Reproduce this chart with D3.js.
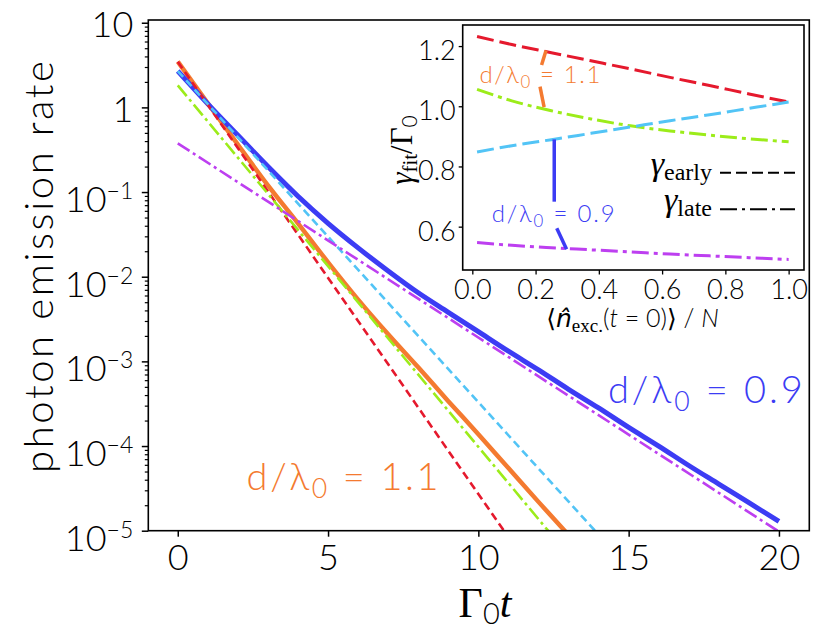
<!DOCTYPE html>
<html>
<head>
<meta charset="utf-8">
<script src="https://cdn.jsdelivr.net/npm/d3@7"></script>
<style>
body { margin: 0; background: #fff; }
svg { display: block; }
</style>
</head>
<body>
<div id="chart"></div>
<script>
// ---- main panel data: photon emission rate vs Gamma_0 t ----
var xTicks = [0, 5, 10, 15, 20];
var yMajor = [1e-5, 1e-4, 1e-3, 1e-2, 1e-1, 1, 10];

// full curves [t, rate]
var rate11 = [[0,3.47],[1,1.12],[2,0.363],[3,0.120],[4,0.0427],[5,0.0148],[6,5.37e-3],[7,2.09e-3],
              [8,8.5e-4],[9,3.39e-4],[10,1.38e-4],[11,5.5e-5],[12,2.19e-5],[13,8.9e-6]];
var rate09 = [[0,2.69],[1,1.10],[2,0.468],[3,0.200],[4,0.0891],[5,0.0427],[6,0.0219],[7,0.0117],
              [8,6.46e-3],[9,3.80e-3],[10,2.24e-3],[11,1.32e-3],[12,7.94e-4],[13,4.68e-4],[14,2.82e-4],
              [15,1.66e-4],[16,1.0e-4],[17,5.89e-5],[18,3.55e-5],[19,2.14e-5],[20,1.29e-5]];

// single exponential fits (straight on log axis), start and end points
var earlyFit11 = [[0, 3.47], [10.85, 1e-5]];
var lateFit11  = [[0, 1.82], [12.32, 1e-5]];
var earlyFit09 = [[0, 2.69], [13.88, 1e-5]];
var lateFit09  = [[0, 0.376], [19.95, 1e-5]];

// ---- inset data: fitted rates vs initial excitation ----
var nExc     = [0.015, 0.125, 0.25, 0.375, 0.5, 0.625, 0.75, 0.875, 1.0];
var gEarly11 = [1.232, 1.205, 1.178, 1.151, 1.124, 1.096, 1.069, 1.041, 1.014];
var gLate11  = [1.056, 1.018, 0.985, 0.958, 0.935, 0.918, 0.904, 0.892, 0.882];
var gEarly09 = [0.848, 0.869, 0.889, 0.910, 0.931, 0.952, 0.972, 0.993, 1.014];
var gLate09  = [0.547, 0.538, 0.530, 0.523, 0.516, 0.509, 0.503, 0.497, 0.491];
var insetXTicks = [0, 0.2, 0.4, 0.6, 0.8, 1.0];
var insetYTicks = [0.6, 0.8, 1.0, 1.2];

var sans = "Lato, 'Open Sans', sans-serif";
var serif = "'Liberation Serif', 'DejaVu Serif', serif";

var col = {
    blue: "#3c3cf4", orange: "#f47a30", red: "#e5192d",
    cyan: "#52c4f6", green: "#9cec1a", purple: "#bd3ff0"
};

var W = 830, H = 643;
var svg = d3.select("#chart").append("svg")
    .attr("width", W).attr("height", H)
    .attr("font-weight", 300);

svg.append("rect").attr("width", W).attr("height", H).attr("fill", "#fff");

// main scales
var x = d3.scaleLinear().domain([-0.98, 21.01]).range([148.3, 809.3]);
var y = d3.scaleLog().domain([1e-5, 10.77]).range([530.7, 20]);

svg.append("clipPath").attr("id", "mainclip")
  .append("rect")
    .attr("x", x.range()[0]).attr("y", y.range()[1])
    .attr("width", x.range()[1] - x.range()[0])
    .attr("height", y.range()[0] - y.range()[1]);

var line = d3.line()
    .x(function(d){ return x(d[0]); })
    .y(function(d){ return y(d[1]); });
var smooth = d3.line()
    .x(function(d){ return x(d[0]); })
    .y(function(d){ return y(d[1]); })
    .curve(d3.curveMonotoneX);

var plot = svg.append("g").attr("clip-path", "url(#mainclip)");

// solid curves first, fits on top
plot.append("path").attr("d", smooth(rate11))
    .attr("fill", "none").attr("stroke", col.orange).attr("stroke-width", 4.5);
plot.append("path").attr("d", smooth(rate09))
    .attr("fill", "none").attr("stroke", col.blue).attr("stroke-width", 5);

var fits = [
    {d: earlyFit11, c: col.red,    dash: "8,4.5"},
    {d: earlyFit09, c: col.cyan,   dash: "8,4.5"},
    {d: lateFit11,  c: col.green,  dash: "14,4,3,4"},
    {d: lateFit09,  c: col.purple, dash: "14,4,3,4"}
];
fits.forEach(function(f){
    plot.append("path").attr("d", line(f.d))
        .attr("fill", "none").attr("stroke", f.c)
        .attr("stroke-width", 2.6).attr("stroke-dasharray", f.dash);
});

// axes
var xAxis = svg.append("g")
    .attr("transform", "translate(0," + y.range()[0] + ")")
    .call(d3.axisBottom(x).tickValues(xTicks).tickSize(6).tickPadding(8));
xAxis.select(".domain").remove();
xAxis.selectAll(".tick line").attr("stroke-width", 1.5);
xAxis.selectAll(".tick text").attr("font-family", sans).attr("font-size", 36)
    .attr("font-weight", 300).attr("fill", "#000");

var yMinor = y.ticks().filter(function(v){
    return Math.abs(Math.log10(v) - Math.round(Math.log10(v))) > 1e-6;
});
var yMinorAxis = svg.append("g")
    .attr("transform", "translate(" + x.range()[0] + ",0)")
    .call(d3.axisLeft(y).tickValues(yMinor).tickSize(3.5).tickFormat(""));
yMinorAxis.select(".domain").remove();
yMinorAxis.selectAll(".tick line").attr("stroke-width", 1.2);

var yAxis = svg.append("g")
    .attr("transform", "translate(" + x.range()[0] + ",0)")
    .call(d3.axisLeft(y).tickValues(yMajor).tickSize(6.5).tickPadding(8).tickFormat(""));
yAxis.select(".domain").remove();
yAxis.selectAll(".tick line").attr("stroke-width", 1.5);
yAxis.selectAll(".tick text").each(function(d){
    var t = d3.select(this).attr("dy", null).attr("x", -15)
        .attr("font-family", sans).attr("font-size", 36)
        .attr("font-weight", 300).attr("fill", "#000");
    var e = Math.round(Math.log10(d));
    if (e >= 0) {
        t.attr("y", 14).text(e == 1 ? "10" : "1");
    } else {
        t.attr("y", 19.5);
        t.append("tspan").text("10");
        t.append("tspan").attr("dy", -13).attr("font-size", 23).text("\u2212" + (-e));
    }
});

// frame
svg.append("rect")
    .attr("x", x.range()[0]).attr("y", y.range()[1])
    .attr("width", x.range()[1] - x.range()[0])
    .attr("height", y.range()[0] - y.range()[1])
    .attr("fill", "none").attr("stroke", "#000").attr("stroke-width", 1.6);

// axis labels
svg.append("text")
    .attr("transform", "translate(53,267) rotate(-90)")
    .attr("text-anchor", "middle")
    .attr("font-family", sans).attr("font-size", 40)
    .attr("textLength", 412).attr("lengthAdjust", "spacing")
    .text("photon emission rate");

var xl = svg.append("text")
    .attr("x", 485).attr("y", 617)
    .attr("text-anchor", "middle")
    .attr("font-family", serif).attr("font-size", 42).attr("font-weight", 400);
xl.append("tspan").text("\u0393");
xl.append("tspan").attr("font-family", sans).attr("font-weight", 300)
    .attr("font-size", 29).attr("dy", 7).text("0");
xl.append("tspan").attr("font-style", "italic").attr("dy", -7).text("t");

// d/lambda annotations
function dLabel(g, px, py, size, value, color, len) {
    var t = g.append("text")
        .attr("x", px).attr("y", py)
        .attr("font-family", sans).attr("font-size", size).attr("fill", color)
        .attr("textLength", len).attr("lengthAdjust", "spacing");
    t.append("tspan").text("d/\u03bb");
    t.append("tspan").attr("font-size", size * 0.7).attr("dy", size * 0.2).text("0");
    t.append("tspan").attr("dy", -size * 0.2).text(" = " + value);
    return t;
}
dLabel(svg, x(14.31), y(3.2e-4), 38, "0.9", col.blue, 195);
dLabel(svg, x(2.29), y(3.03e-5), 38, "1.1", col.orange, 192);

// ---- inset ----
var xi = d3.scaleLinear().domain([-0.0304, 1.0486]).range([462.7, 804]);
var yi = d3.scaleLinear().domain([0.456, 1.27]).range([270, 25]);

var inset = svg.append("g");
inset.append("rect")
    .attr("x", xi.range()[0]).attr("y", yi.range()[1])
    .attr("width", xi.range()[1] - xi.range()[0])
    .attr("height", yi.range()[0] - yi.range()[1])
    .attr("fill", "#fff");

var iline = d3.line()
    .x(function(d){ return xi(d[0]); })
    .y(function(d){ return yi(d[1]); })
    .curve(d3.curveMonotoneX);

var iseries = [
    {v: gEarly11, c: col.red,    dash: "17,6"},
    {v: gLate11,  c: col.green,  dash: "17,5,4,5"},
    {v: gEarly09, c: col.cyan,   dash: "17,6"},
    {v: gLate09,  c: col.purple, dash: "17,5,4,5"}
];
iseries.forEach(function(s){
    inset.append("path")
        .attr("d", iline(nExc.map(function(n, i){ return [n, s.v[i]]; })))
        .attr("fill", "none").attr("stroke", s.c)
        .attr("stroke-width", 3).attr("stroke-dasharray", s.dash);
});

// pointer lines from the labels to the curves
var pointers = [
    {p: [[0.233, 1.185], [0.219, 1.137]], c: col.orange},
    {p: [[0.214, 1.065], [0.227, 0.997]], c: col.orange},
    {p: [[0.259, 0.890], [0.259, 0.683]], c: col.blue},
    {p: [[0.267, 0.595], [0.298, 0.525]], c: col.blue}
];
pointers.forEach(function(p){
    inset.append("path").attr("d", d3.line()
            .x(function(d){ return xi(d[0]); })
            .y(function(d){ return yi(d[1]); })(p.p))
        .attr("stroke", p.c).attr("stroke-width", 3.5);
});

dLabel(inset, xi(0.0225), yi(1.077), 24, "1.1", col.orange, 121);
dLabel(inset, xi(0.0613), yi(0.6155), 24, "0.9", col.blue, 123);

// legend
function legendRow(py, sub, dash) {
    var t = inset.append("text")
        .attr("x", 712).attr("y", py + 2)
        .attr("text-anchor", "end")
        .attr("font-family", serif).attr("font-size", 34).attr("font-weight", 400);
    t.append("tspan").attr("font-style", "italic").text("\u03b3");
    t.append("tspan").attr("font-size", 24).attr("dy", 5).text(sub);
    inset.append("line")
        .attr("x1", 720).attr("x2", 795).attr("y1", py).attr("y2", py)
        .attr("stroke", "#000").attr("stroke-width", 2)
        .attr("stroke-dasharray", dash);
}
legendRow(172.7, "early", "11,5");
legendRow(209.3, "late", "17,5,3,5");

// inset axes
var ixAxis = inset.append("g")
    .attr("transform", "translate(0," + yi.range()[0] + ")")
    .call(d3.axisBottom(xi).tickValues(insetXTicks).tickSize(4.5).tickPadding(5).tickFormat(d3.format(".1f")));
ixAxis.select(".domain").remove();
ixAxis.selectAll(".tick line").attr("stroke-width", 1.3);
ixAxis.selectAll(".tick text").attr("font-family", sans).attr("font-size", 27)
    .attr("font-weight", 300).attr("fill", "#000");

var iyAxis = inset.append("g")
    .attr("transform", "translate(" + xi.range()[0] + ",0)")
    .call(d3.axisLeft(yi).tickValues(insetYTicks).tickSize(4).tickPadding(3).tickFormat(d3.format(".1f")));
iyAxis.select(".domain").remove();
iyAxis.selectAll(".tick line").attr("stroke-width", 1.3);
iyAxis.selectAll(".tick text").attr("dy", "0.5em")
    .attr("font-family", sans).attr("font-size", 27)
    .attr("font-weight", 300).attr("fill", "#000");

inset.append("rect")
    .attr("x", xi.range()[0]).attr("y", yi.range()[1])
    .attr("width", xi.range()[1] - xi.range()[0])
    .attr("height", yi.range()[0] - yi.range()[1])
    .attr("fill", "none").attr("stroke", "#000").attr("stroke-width", 1.6);

// inset labels
var iyl = inset.append("text")
    .attr("transform", "translate(412,150) rotate(-90)")
    .attr("text-anchor", "middle")
    .attr("font-family", serif).attr("font-size", 31).attr("font-weight", 400);
iyl.append("tspan").attr("font-style", "italic").text("\u03b3");
iyl.append("tspan").attr("font-size", 21).attr("dy", 5).text("fit");
iyl.append("tspan").attr("dy", -5).text("/\u0393");
iyl.append("tspan").attr("font-family", sans).attr("font-weight", 300)
    .attr("font-size", 21).attr("dy", 5).text("0");

var ixl = inset.append("text")
    .attr("x", 632.5).attr("y", 327)
    .attr("text-anchor", "middle")
    .attr("font-family", sans).attr("font-size", 25);
ixl.append("tspan").attr("font-family", serif).attr("font-weight", 400).text("\u27e8");
ixl.append("tspan").attr("font-family", "'DejaVu Sans', sans-serif").attr("font-weight", 400)
    .attr("font-style", "italic").text("n\u0302");
ixl.append("tspan").attr("font-family", serif).attr("font-weight", 400)
    .attr("font-size", 19).attr("dy", 5).text("exc.");
ixl.append("tspan").attr("dy", -5).text("(");
ixl.append("tspan").attr("font-style", "italic").text("t");
ixl.append("tspan").text(" = 0)");
ixl.append("tspan").attr("font-family", serif).attr("font-weight", 400).text("\u27e9");
ixl.append("tspan").text(" / ");
ixl.append("tspan").attr("font-style", "italic").text("N");
</script>
</body>
</html>
